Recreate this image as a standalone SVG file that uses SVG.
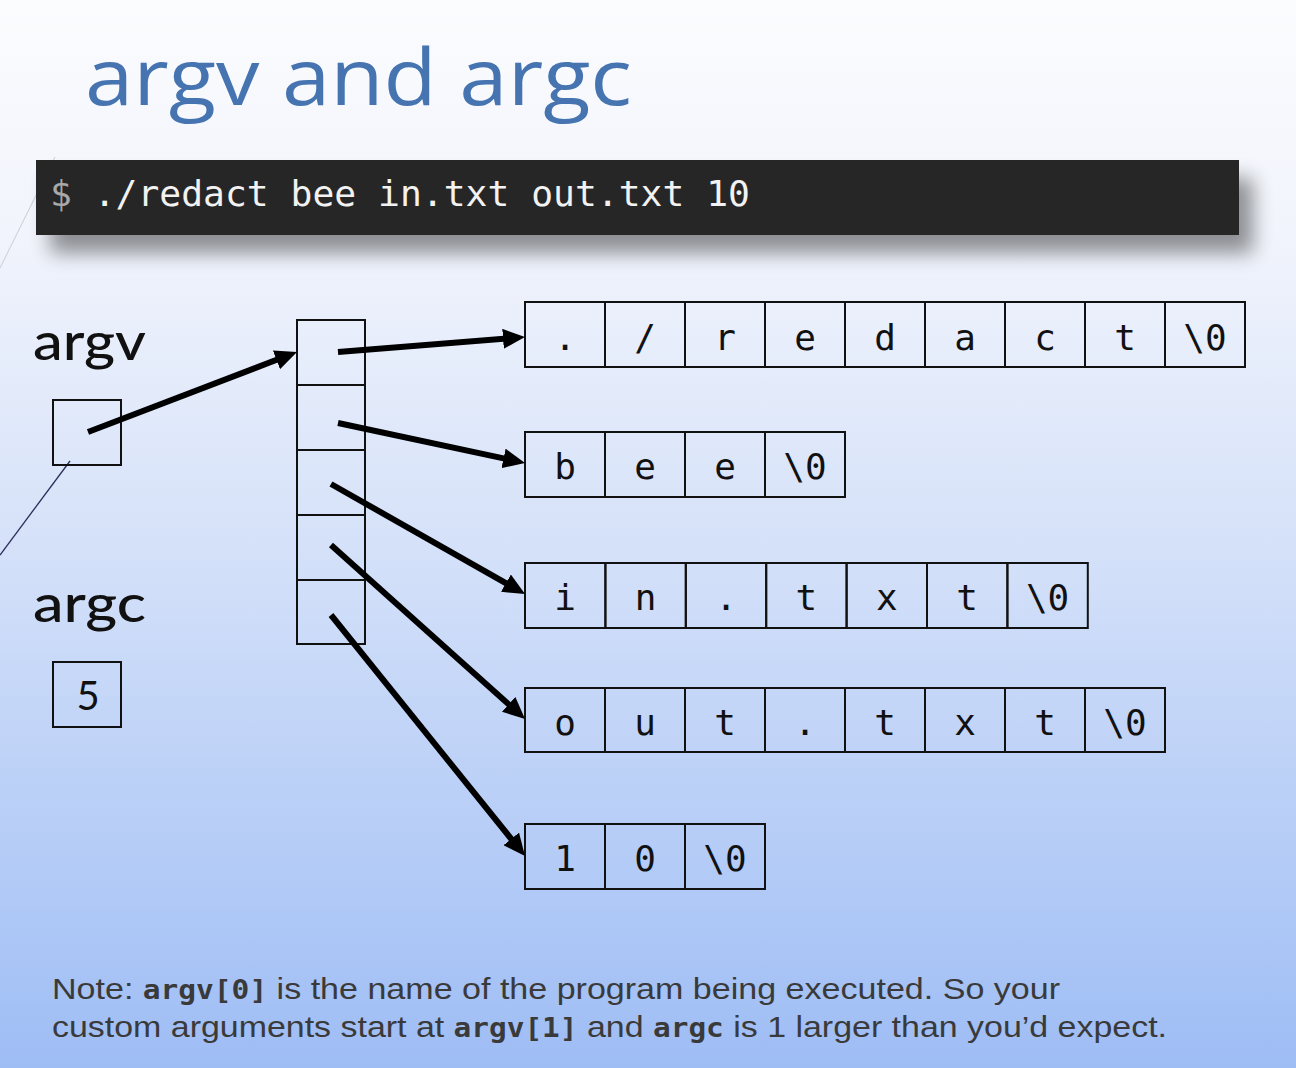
<svg xmlns="http://www.w3.org/2000/svg" width="1296" height="1068" viewBox="0 0 1296 1068">
<defs>
<linearGradient id="bg" x1="0" y1="0" x2="0" y2="1">
<stop offset="0" stop-color="#fbfcfe"/>
<stop offset="0.22" stop-color="#f1f4fc"/>
<stop offset="0.5" stop-color="#d6e2f9"/>
<stop offset="1" stop-color="#9ebdf5"/>
</linearGradient>
<filter id="shadow" x="-5%" y="-30%" width="115%" height="200%">
<feGaussianBlur in="SourceAlpha" stdDeviation="10"/>
<feOffset dx="14" dy="18" result="b"/>
<feComponentTransfer><feFuncA type="linear" slope="0.42"/></feComponentTransfer>
<feMerge><feMergeNode/><feMergeNode in="SourceGraphic"/></feMerge>
</filter>
<marker id="ah" viewBox="0 0 22 20" refX="10" refY="10" markerWidth="22" markerHeight="20" markerUnits="userSpaceOnUse" orient="auto">
<path d="M0,0 L22,10 L0,20 z" fill="#000"/>
</marker>
</defs>
<style>
.cell{fill:none;stroke:#111;stroke-width:2}
.ch{font-family:"DejaVu Sans Mono","Liberation Mono",monospace;font-size:36px;fill:#111;text-anchor:middle}
.lbl{font-family:Lato,"Noto Sans",sans-serif;font-size:52px;fill:#111;font-weight:500}
.arr{stroke:#000;stroke-width:6;fill:none;marker-end:url(#ah)}
.note{font-family:"Liberation Sans",sans-serif;font-size:30px;fill:#3a3a3a}
.mono{font-family:"DejaVu Sans Mono","Liberation Mono",monospace;font-weight:bold;font-size:26px}
</style>
<rect width="1296" height="1068" fill="url(#bg)"/>
<line x1="55" y1="157" x2="0" y2="268" stroke="#c8ccd8" stroke-width="1"/>
<line x1="70" y1="461" x2="0" y2="555" stroke="#2a2d5a" stroke-width="1.3"/>

<g id="title">
<text x="85" y="105" font-family="'Open Sans','Noto Sans',sans-serif" font-size="78" fill="#4674b0" textLength="547" lengthAdjust="spacingAndGlyphs">argv and argc</text>
</g>

<g id="command">
<rect x="36" y="160" width="1203" height="75" fill="#262626" filter="url(#shadow)"/>
<text x="50" y="206" font-family="'DejaVu Sans Mono','Liberation Mono',monospace" font-size="36" fill="#f2f2f2" textLength="700" lengthAdjust="spacingAndGlyphs"><tspan fill="#a8a8a8">$</tspan> ./redact bee in.txt out.txt 10</text>
</g>

<g id="argv">
<text class="lbl" x="33" y="360" textLength="113" lengthAdjust="spacingAndGlyphs">argv</text>
<rect class="cell" x="53" y="400" width="68" height="65"/>
</g>

<g id="argc">
<text class="lbl" x="33" y="622" textLength="113" lengthAdjust="spacingAndGlyphs">argc</text>
<rect class="cell" x="53" y="662" width="68" height="65"/>
<text x="88" y="710" font-family="Lato,'Noto Sans',sans-serif" font-size="40" fill="#111" text-anchor="middle">5</text>
</g>

<g id="argv-array">
<rect class="cell" x="297" y="320" width="68" height="65"/>
<rect class="cell" x="297" y="385" width="68" height="65"/>
<rect class="cell" x="297" y="450" width="68" height="65"/>
<rect class="cell" x="297" y="515" width="68" height="65"/>
<rect class="cell" x="297" y="580" width="68" height="64"/>
</g>

<g id="str0">
<rect class="cell" x="525" y="302" width="80" height="65"/>
<rect class="cell" x="605" y="302" width="80" height="65"/>
<rect class="cell" x="685" y="302" width="80" height="65"/>
<rect class="cell" x="765" y="302" width="80" height="65"/>
<rect class="cell" x="845" y="302" width="80" height="65"/>
<rect class="cell" x="925" y="302" width="80" height="65"/>
<rect class="cell" x="1005" y="302" width="80" height="65"/>
<rect class="cell" x="1085" y="302" width="80" height="65"/>
<rect class="cell" x="1165" y="302" width="80" height="65"/>
<text class="ch" y="350"><tspan x="565">.</tspan><tspan x="645">/</tspan><tspan x="725">r</tspan><tspan x="805">e</tspan><tspan x="885">d</tspan><tspan x="965">a</tspan><tspan x="1045">c</tspan><tspan x="1125">t</tspan><tspan x="1205">\0</tspan></text>
</g>

<g id="str1">
<rect class="cell" x="525" y="432" width="80" height="65"/>
<rect class="cell" x="605" y="432" width="80" height="65"/>
<rect class="cell" x="685" y="432" width="80" height="65"/>
<rect class="cell" x="765" y="432" width="80" height="65"/>
<text class="ch" y="479"><tspan x="565">b</tspan><tspan x="645">e</tspan><tspan x="725">e</tspan><tspan x="805">\0</tspan></text>
</g>

<g id="str2">
<rect class="cell" x="525" y="563" width="80.4" height="65"/>
<rect class="cell" x="605.4" y="563" width="80.4" height="65"/>
<rect class="cell" x="685.8" y="563" width="80.4" height="65"/>
<rect class="cell" x="766.2" y="563" width="80.4" height="65"/>
<rect class="cell" x="846.6" y="563" width="80.4" height="65"/>
<rect class="cell" x="927" y="563" width="80.4" height="65"/>
<rect class="cell" x="1007.4" y="563" width="80.4" height="65"/>
<text class="ch" y="610"><tspan x="565">i</tspan><tspan x="645.5">n</tspan><tspan x="726">.</tspan><tspan x="806.4">t</tspan><tspan x="886.8">x</tspan><tspan x="967.2">t</tspan><tspan x="1047.6">\0</tspan></text>
</g>

<g id="str3">
<rect class="cell" x="525" y="688" width="80" height="64"/>
<rect class="cell" x="605" y="688" width="80" height="64"/>
<rect class="cell" x="685" y="688" width="80" height="64"/>
<rect class="cell" x="765" y="688" width="80" height="64"/>
<rect class="cell" x="845" y="688" width="80" height="64"/>
<rect class="cell" x="925" y="688" width="80" height="64"/>
<rect class="cell" x="1005" y="688" width="80" height="64"/>
<rect class="cell" x="1085" y="688" width="80" height="64"/>
<text class="ch" y="735"><tspan x="565">o</tspan><tspan x="645">u</tspan><tspan x="725">t</tspan><tspan x="805">.</tspan><tspan x="885">t</tspan><tspan x="965">x</tspan><tspan x="1045">t</tspan><tspan x="1125">\0</tspan></text>
</g>

<g id="str4">
<rect class="cell" x="525" y="824" width="80" height="65"/>
<rect class="cell" x="605" y="824" width="80" height="65"/>
<rect class="cell" x="685" y="824" width="80" height="65"/>
<text class="ch" y="871"><tspan x="565">1</tspan><tspan x="645">0</tspan><tspan x="725">\0</tspan></text>
</g>

<g id="connectors">
<path class="arr" d="M88,432 L285.8,356.3"/>
<path class="arr" d="M338,352 L513,338"/>
<path class="arr" d="M338,423 L513.3,460.5"/>
<path class="arr" d="M331,484 L514.6,588.1"/>
<path class="arr" d="M331,545 L516.1,711"/>
<path class="arr" d="M331,615 L517.5,846.7"/>
</g>

<g id="note">
<text class="note" x="52" y="999" textLength="1008" lengthAdjust="spacingAndGlyphs">Note: <tspan class="mono">argv[0]</tspan> is the name of the program being executed. So your</text>
<text class="note" x="52" y="1037" textLength="1115" lengthAdjust="spacingAndGlyphs">custom arguments start at <tspan class="mono">argv[1]</tspan> and <tspan class="mono">argc</tspan> is 1 larger than you’d expect.</text>
</g>
</svg>
